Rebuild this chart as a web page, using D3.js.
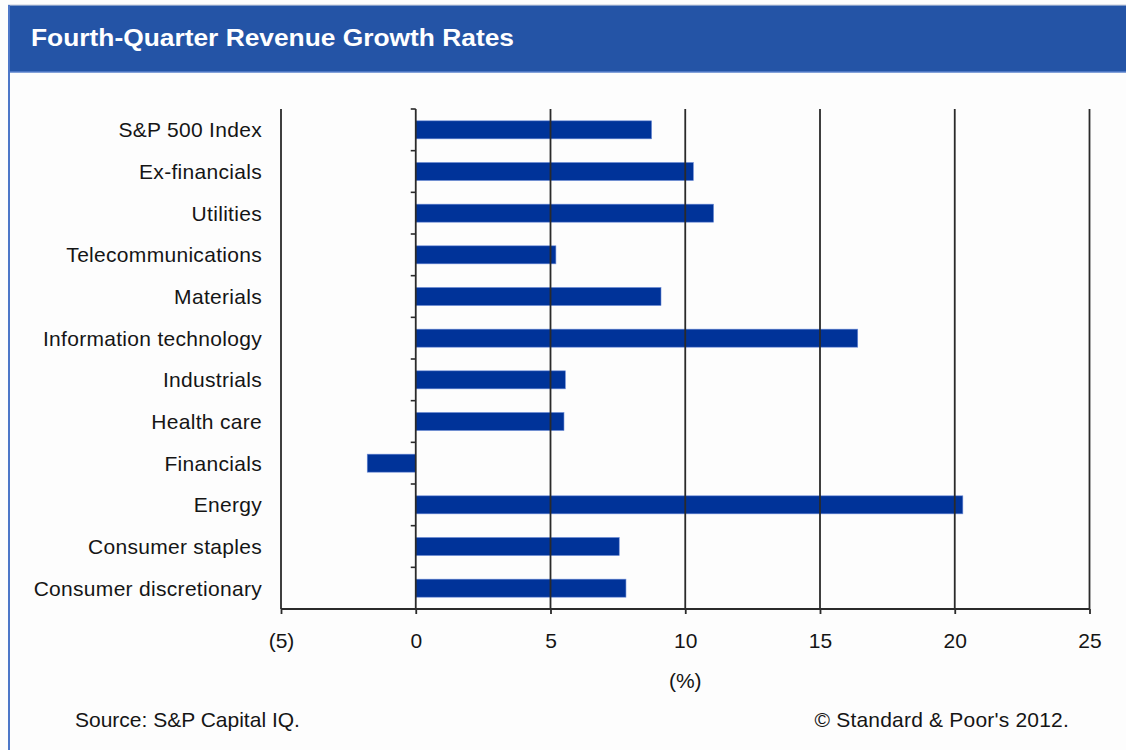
<!DOCTYPE html>
<html>
<head>
<meta charset="utf-8">
<script src="https://cdn.jsdelivr.net/npm/d3@7"></script>
<style>
  html, body { margin: 0; padding: 0; background: #fdfdfd; }
  svg { display: block; }
</style>
</head>
<body>
<svg id="chart" width="1126" height="750"></svg>
<script>
// Sector revenue growth, fourth quarter (%)
const sectors = [
  "S&P 500 Index",
  "Ex-financials",
  "Utilities",
  "Telecommunications",
  "Materials",
  "Information technology",
  "Industrials",
  "Health care",
  "Financials",
  "Energy",
  "Consumer staples",
  "Consumer discretionary"
];
const growth = [8.75, 10.3, 11.05, 5.2, 9.1, 16.4, 5.55, 5.5, -1.8, 20.3, 7.55, 7.8];
const xTicks = [-5, 0, 5, 10, 15, 20, 25];

const title = "Fourth-Quarter Revenue Growth Rates";
const axisTitle = "(%)";
const sourceNote = "Source: S&P Capital IQ.";
const copyright = "\u00A9 Standard & Poor's 2012.";

const svg = d3.select("#chart");
const font = "'Liberation Sans', Arial, sans-serif";
const textInk = "#151515";

// Panel frame and header band
svg.append("rect").attr("x", 0).attr("y", 0).attr("width", 1126).attr("height", 750).attr("fill", "#fdfdfd");
svg.append("line").attr("x1", 8).attr("x2", 1126).attr("y1", 5).attr("y2", 5)
  .attr("stroke", "#c4cbd8").attr("stroke-width", 1);
svg.append("rect").attr("x", 8).attr("y", 5.5).attr("width", 1118).attr("height", 66.5).attr("fill", "#2454a6");
svg.append("line").attr("x1", 8).attr("x2", 1126).attr("y1", 72).attr("y2", 72)
  .attr("stroke", "#5a82cc").attr("stroke-width", 1.5);
svg.append("line").attr("x1", 9).attr("x2", 9).attr("y1", 5).attr("y2", 750)
  .attr("stroke", "#4d77c8").attr("stroke-width", 2);

svg.append("text")
  .attr("x", 31).attr("y", 46)
  .attr("fill", "#ffffff")
  .attr("font-family", font)
  .attr("font-weight", "bold")
  .attr("font-size", 23)
  .attr("textLength", 483)
  .attr("lengthAdjust", "spacingAndGlyphs")
  .text(title);

// Scales
const x = d3.scaleLinear().domain([-5, 25]).range([281, 1089.5]);
const y = d3.scaleBand().domain(sectors).range([109, 609]).paddingInner(0.568).paddingOuter(0.284);

const ink = "#2a2a2a";

// Bars
svg.append("g").selectAll("rect")
  .data(sectors)
  .join("rect")
  .attr("x", (d, i) => x(Math.min(0, growth[i])))
  .attr("y", d => y(d))
  .attr("width", (d, i) => Math.abs(x(growth[i]) - x(0)))
  .attr("height", y.bandwidth())
  .attr("fill", "#003399")
  .attr("stroke", "#6a8ad6")
  .attr("stroke-width", 0.6);

// Vertical gridlines drawn over the bars
svg.append("g").selectAll("line")
  .data(xTicks)
  .join("line")
  .attr("x1", d => x(d)).attr("x2", d => x(d))
  .attr("y1", 109).attr("y2", 609)
  .attr("stroke", ink)
  .attr("stroke-width", 1.8);

// Category separators on the zero line
const bounds = d3.range(sectors.length + 1).map(i => 109 + i * (500 / sectors.length));
svg.append("g").selectAll("line")
  .data(bounds)
  .join("line")
  .attr("x1", x(0) - 5).attr("x2", x(0))
  .attr("y1", d => d).attr("y2", d => d)
  .attr("stroke", ink)
  .attr("stroke-width", 1.6);

// Category labels
svg.append("g").selectAll("text")
  .data(sectors)
  .join("text")
  .attr("x", 262)
  .attr("y", d => y(d) + y.bandwidth() / 2 + 7.5)
  .attr("text-anchor", "end")
  .attr("font-family", font)
  .attr("font-size", 21)
  .attr("letter-spacing", 0.3)
  .attr("fill", textInk)
  .text(d => d);

// Bottom axis
const xAxis = d3.axisBottom(x)
  .tickValues(xTicks)
  .tickSize(5)
  .tickPadding(19)
  .tickFormat(d => d < 0 ? "(" + Math.abs(d) + ")" : String(d));

const gx = svg.append("g").attr("transform", "translate(0,609)").call(xAxis);
gx.select(".domain").attr("stroke", ink).attr("stroke-width", 1.8).attr("d", "M" + x(-5) + ",0H" + x(25));
gx.selectAll(".tick line").attr("stroke", ink).attr("stroke-width", 1.8);
gx.selectAll(".tick text")
  .attr("font-family", font)
  .attr("font-size", 21)
  .attr("fill", textInk);

svg.append("text")
  .attr("x", x(10)).attr("y", 688)
  .attr("text-anchor", "middle")
  .attr("font-family", font)
  .attr("font-size", 21)
  .attr("fill", textInk)
  .text(axisTitle);

// Footer notes
svg.append("text")
  .attr("x", 75).attr("y", 727)
  .attr("font-family", font)
  .attr("font-size", 21)
  .attr("fill", textInk)
  .text(sourceNote);

svg.append("text")
  .attr("x", 1069).attr("y", 727)
  .attr("text-anchor", "end")
  .attr("font-family", font)
  .attr("font-size", 21)
  .attr("letter-spacing", 0.2)
  .attr("fill", textInk)
  .text(copyright);
</script>
</body>
</html>
